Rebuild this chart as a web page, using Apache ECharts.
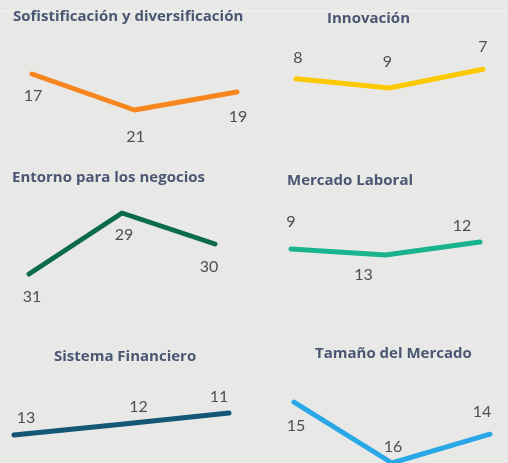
<!DOCTYPE html>
<html>
<head>
<meta charset="utf-8">
<script src="https://cdn.jsdelivr.net/npm/echarts@6/dist/echarts.min.js"></script>
<style>
html,body{margin:0;padding:0;background:#e8e9e7;}
#chart{width:508px;height:463px;}
</style>
</head>
<body>
<div id="chart"></div>
<script>
// Data
const titles = ['Sofistificación y diversificación','Innovación','Entorno para los negocios','Mercado Laboral','Sistema Financiero','Tamaño del Mercado'];
const periods = ['P1','P2','P3'];
// ranking labels shown on each point
const ranks1 = [17, 21, 19];
const ranks2 = [8, 9, 7];
const ranks3 = [31, 29, 30];
const ranks4 = [9, 13, 12];
const ranks5 = [13, 12, 11];
const ranks6 = [15, 16, 14];
// line heights (score, 0-10 scale)
const score1 = [7.0, 2.5, 4.75];
const score2 = [6.4, 5.25, 7.6];
const score3 = [2.1, 8.2, 5.1];
const score4 = [4.6, 4.0, 5.3];
const score5 = [3.5, 4.85, 6.25];
const score6 = [7.6, 0, 3.6];

const ranks = [ranks1, ranks2, ranks3, ranks4, ranks5, ranks6];
const scores = [score1, score2, score3, score4, score5, score6];

// Layout / style
const colors = ['#f7861f', '#fcc800', '#0b6b4a', '#19b48e', '#135676', '#2aa7e6'];
const grids = [
  {left: 32, width: 205, top: 50, height: 80},
  {left: 296, width: 187, top: 50, height: 80},
  {left: 29, width: 186, top: 195, height: 100},
  {left: 291, width: 189, top: 195, height: 100},
  {left: 14, width: 215, top: 383, height: 80},
  {left: 294, width: 196, top: 383, height: 80}
];
const titlePos = [[13, 9], [327, 11], [12, 170], [287, 173], [54, 349], [315, 346]];
const labelOffsets = [
  [[1,22],[1,27],[1,25]],
  [[2,-21],[-2,-26],[0,-22]],
  [[3,23],[2,22],[-6,23]],
  [[0,-27],[-22,20],[-18,-16]],
  [[12,-17],[17,-17],[-10,-16]],
  [[2,24],[1,-16],[-8,-22]]
];

const chart = echarts.init(document.getElementById('chart'));
const option = {
  backgroundColor: '#e8e9e7',
  animation: false,
  title: titles.map((t, i) => ({
    text: t, left: titlePos[i][0], top: titlePos[i][1], padding: 0,
    textStyle: {fontFamily: 'Open Sans', fontSize: 15, fontWeight: 'bold', color: '#4a5672'}
  })),
  graphic: [{
    type: 'line', shape: {x1: 0, y1: 11, x2: 508, y2: 11},
    style: {stroke: '#f4f5f3', lineWidth: 1}, silent: true
  }],
  grid: grids.map(g => Object.assign({}, g)),
  xAxis: grids.map((g, i) => ({type: 'category', gridIndex: i, data: periods, boundaryGap: false, show: false})),
  yAxis: grids.map((g, i) => ({type: 'value', gridIndex: i, min: 0, max: 10, show: false})),
  series: scores.map((s, i) => ({
    type: 'line', xAxisIndex: i, yAxisIndex: i, clip: false,
    symbol: 'circle', symbolSize: 1,
    itemStyle: {color: colors[i]},
    lineStyle: {color: colors[i], width: 5, cap: 'round', join: 'round'},
    data: s.map((v, j) => ({
      value: v,
      label: {
        show: true, position: 'inside', offset: labelOffsets[i][j],
        formatter: String(ranks[i][j]),
        fontFamily: 'Lato', fontSize: 16, color: '#4f4f4f'
      }
    }))
  }))
};
chart.setOption(option);
</script>
</body>
</html>
